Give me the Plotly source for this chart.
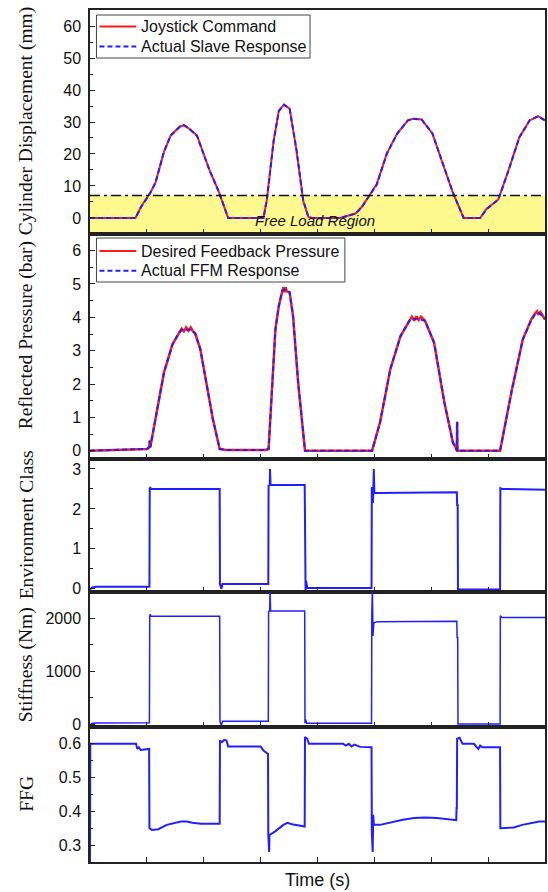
import plotly.graph_objects as go

# ---------------- data (time in s) ----------------
disp_t = [0, 8.0, 9.0, 10.6, 11.5, 13.0, 14.2, 15.8, 16.5, 17.3, 18.8, 21.0, 22.5, 23.4, 24.3,
          30.5, 31.1, 32.3, 33.2, 34.1, 35.1, 36.3, 37.5, 38.4, 39.0,
          44.0, 45.5, 46.7, 47.8, 49.1, 50.4, 52.2, 54.0, 55.9, 56.8, 58.3, 60.2, 62.0, 63.8, 65.7,
          68.6, 69.7, 71.8, 73.6, 75.5, 77.3, 78.8, 80.0]
joystick_cmd = [0, 0, 3.6, 7.9, 11.0, 20.7, 25.8, 28.6, 29.0, 28.1, 25.8, 15.0, 8.9, 4.3, 0,
                0, 5.8, 24.3, 33.5, 35.4, 34.2, 21.2, 5.3, 0.3, 0,
                0, 0.9, 1.4, 3.5, 6.9, 10.5, 20.2, 26.4, 30.5, 31.0, 30.8, 26.4, 17.1, 7.9, 0,
                0, 2.8, 5.8, 15.0, 25.3, 30.5, 31.8, 30.5]
slave_resp = [0, 0, 3.5, 7.8, 11.0, 20.6, 25.8, 28.5, 29.0, 28.1, 25.7, 15.0, 8.8, 4.2, 0,
              0, 5.7, 24.2, 33.4, 35.4, 34.2, 21.3, 5.4, 0.3, 0,
              0, 0.9, 1.4, 3.4, 6.8, 10.4, 20.1, 26.3, 30.5, 31.0, 30.8, 26.4, 17.2, 8.0, 0,
              0, 2.7, 5.8, 14.9, 25.2, 30.5, 31.8, 30.5]
free_load_limit = 7.0

press_t = [0, 10.0, 10.4, 10.5, 10.6, 11.2, 13.0, 14.5, 15.6, 16.1, 16.5, 16.9, 17.3, 17.7, 18.1, 18.5,
           19.4, 21.6, 22.8, 24.0, 30.8, 31.4, 32.6, 33.2, 33.8, 34.0, 34.2, 34.4, 34.6, 35.1, 35.7,
           36.6, 37.8, 49.6, 51.0, 52.8, 54.6, 56.2, 56.6, 57.0, 57.4, 57.8, 58.2, 58.9, 60.5, 62.3,
           63.8, 64.3, 64.5, 64.55, 64.6, 72.1, 74.2, 76.1, 77.6, 78.2, 78.6, 78.8, 79.2, 80.0]
desired_press = [0, 0.05, 0.1, 0.3, 0.1, 0.65, 2.34, 3.19, 3.5, 3.66, 3.58, 3.7, 3.6, 3.7, 3.58, 3.52,
                 3.04, 0.95, 0.05, 0.02, 0.02, 0.05, 3.64, 4.34, 4.78, 4.9, 4.75, 4.9, 4.78, 4.75, 4.04,
                 2.04, 0, 0, 0.85, 2.44, 3.44, 3.94, 4.02, 3.9, 4.03, 3.92, 4.02, 3.9, 3.24, 1.45,
                 0.25, 0.1, 0, 0.87, 0, 0, 1.84, 3.34, 3.94, 4.1, 4.18, 4.1, 4.16, 3.94]
actual_ffm = [0, 0.05, 0.1, 0.3, 0.1, 0.65, 2.34, 3.19, 3.52, 3.62, 3.62, 3.64, 3.64, 3.63, 3.6, 3.5,
              3.04, 0.95, 0.05, 0.02, 0.02, 0.05, 3.64, 4.34, 4.8, 4.83, 4.83, 4.82, 4.8, 4.75, 4.04,
              2.04, 0, 0, 0.85, 2.44, 3.44, 3.92, 3.95, 3.96, 3.96, 3.95, 3.94, 3.9, 3.24, 1.45,
              0.25, 0.1, 0, 0.87, 0, 0, 1.84, 3.34, 3.92, 4.08, 4.12, 4.12, 4.1, 3.94]

env_t = [0, 0.3, 1.0, 10.45, 10.5, 10.6, 10.7, 22.8, 22.85, 23.1, 23.3, 31.35, 31.4, 31.6, 31.65,
         31.75, 37.75, 37.8, 37.9, 38.0, 38.2, 49.5, 49.55, 49.7, 49.75, 49.9, 50.0, 50.3, 57.0,
         64.5, 64.55, 64.65, 64.7, 72.1, 72.15, 72.4, 80.0]
env_class = [-0.02, 0.03, 0.05, 0.05, 2.5, 2.55, 2.5, 2.5, 0.12, 0.0, 0.12, 0.12, 2.58, 2.6, 3.0,
             2.6, 2.6, 0.02, -0.05, 0.2, 0.02, 0.02, 2.55, 2.4, 2.15, 3.0, 2.4, 2.4, 2.41,
             2.42, 2.1, 2.1, -0.02, -0.02, 2.52, 2.5, 2.48]

stiff_t = [0, 0.3, 1.0, 10.45, 10.5, 10.6, 10.7, 22.8, 22.85, 23.1, 23.3, 31.35, 31.4, 31.6, 31.65,
           31.75, 37.75, 37.8, 37.9, 38.1, 49.5, 49.55, 49.65, 49.75, 49.9, 50.5, 64.5, 64.55, 64.65,
           64.7, 72.1, 72.15, 72.4, 80.0]
stiffness = [-20, 15, 25, 30, 2040, 2080, 2040, 2040, 60, -20, 60, 60, 2130, 2140, 2600,
             2140, 2140, 20, 90, 20, 20, 2080, 2600, 1670, 1920, 1940, 1945, 1640, 1640,
             5, 5, 2050, 2020, 2020]

ffg_t = [0, 0.05, 8.1, 8.3, 8.6, 8.9, 10.4, 10.45, 10.9, 12.0, 13.5, 14.8, 16.0, 17.0, 18.0, 19.5,
         22.8, 22.85, 23.2, 23.6, 24.0, 24.3, 30.0, 30.5, 31.3, 31.35, 31.5, 31.55, 32.5, 34.0, 34.7,
         35.5, 37.75, 37.8, 38.2, 38.5, 44.5, 45.0, 45.5, 46.0, 46.5, 47.5, 49.5, 49.55, 49.7, 49.8,
         49.9, 51.0, 53.0, 55.0, 57.0, 59.0, 61.0, 62.5, 64.4, 64.45, 64.5, 64.55, 65.0, 65.5, 67.5,
         68.0, 68.3, 68.6, 69.0, 70.0, 72.1, 72.15, 73.0, 74.5, 76.0, 77.5, 79.0, 80.0]
ffg = [0.25, 0.6, 0.6, 0.585, 0.59, 0.582, 0.585, 0.35, 0.345, 0.347, 0.36, 0.365, 0.37, 0.37, 0.366, 0.363,
       0.363, 0.61, 0.605, 0.612, 0.61, 0.592, 0.592, 0.58, 0.57, 0.33, 0.28, 0.33, 0.34, 0.36, 0.366,
       0.362, 0.355, 0.62, 0.615, 0.6, 0.6, 0.595, 0.6, 0.592, 0.598, 0.591, 0.59, 0.34, 0.28, 0.39,
       0.36, 0.36, 0.368, 0.375, 0.38, 0.382, 0.38, 0.378, 0.374, 0.41, 0.41, 0.615, 0.618, 0.6, 0.6,
       0.59, 0.585, 0.595, 0.59, 0.59, 0.59, 0.35, 0.35, 0.352, 0.36, 0.365, 0.37, 0.37]

y_titles = ["Cylinder Displacement (mm)", "Reflected Pressure (bar)", "Environment Class",
            "Stiffness (Nm)", "FFG"]
legend1_labels = ["Joystick Command", "Actual Slave Response"]
legend2_labels = ["Desired Feedback Pressure", "Actual FFM Response"]

# ---------------- figure ----------------
W, H = 548, 892
ML, MR, MT, MB = 90, 1, 10, 30
PW, PH = W - ML - MR, H - MT - MB
RED = "#ff1a1a"
BLUE = "#1f1fff"
AX = "#222222"
DASH = "5px,3px"
domains = [[0.7371, 1.0], [0.4730, 0.7371], [0.3169, 0.4730], [0.1585, 0.3169], [0.0, 0.1585]]
yranges = [[-5, 65], [-0.25, 6.5], [-0.08, 3.25], [-50, 2500], [0.25, 0.65]]
ydticks = [10, 1, 1, 1000, 0.1]
title_y = [0.8697, 0.6185, 0.3955, 0.2312, 0.0804]


def px_x(px):
    return (px - ML) / PW


def px_y(py):
    return (H - MB - py) / PH


fig = go.Figure()

fig.add_trace(go.Scatter(x=disp_t, y=joystick_cmd, mode="lines", name=legend1_labels[0],
                         line=dict(color=RED, width=2), xaxis="x", yaxis="y", showlegend=False))
fig.add_trace(go.Scatter(x=disp_t, y=slave_resp, mode="lines", name=legend1_labels[1],
                         line=dict(color=BLUE, width=2, dash=DASH), xaxis="x", yaxis="y",
                         showlegend=False))
fig.add_trace(go.Scatter(x=press_t, y=desired_press, mode="lines", name=legend2_labels[0],
                         line=dict(color=RED, width=2.5), xaxis="x2", yaxis="y2", showlegend=False))
fig.add_trace(go.Scatter(x=press_t, y=actual_ffm, mode="lines", name=legend2_labels[1],
                         line=dict(color=BLUE, width=2, dash=DASH), xaxis="x2", yaxis="y2",
                         showlegend=False))
fig.add_trace(go.Scatter(x=env_t, y=env_class, mode="lines", showlegend=False,
                         line=dict(color=BLUE, width=2), xaxis="x3", yaxis="y3"))
fig.add_trace(go.Scatter(x=stiff_t, y=stiffness, mode="lines", showlegend=False,
                         line=dict(color=BLUE, width=1.5), xaxis="x4", yaxis="y4"))
fig.add_trace(go.Scatter(x=ffg_t, y=ffg, mode="lines", showlegend=False,
                         line=dict(color=BLUE, width=2), xaxis="x5", yaxis="y5"))

layout = dict(
    width=W, height=H,
    margin=dict(l=ML, r=MR, t=MT, b=MB),
    paper_bgcolor="white", plot_bgcolor="white",
    showlegend=False,
    font=dict(family="Liberation Sans", color="#111"),
)
for i in range(5):
    sx = "" if i == 0 else str(i + 1)
    layout["xaxis" + sx] = dict(
        domain=[0, 1], range=[0, 80], dtick=10, tick0=0, anchor="y" + sx,
        showticklabels=False, ticks="inside", ticklen=5, tickwidth=1.2, tickcolor=AX,
        showline=True, linecolor=AX, linewidth=1.5, mirror=True,
        showgrid=False, zeroline=False, fixedrange=True,
    )
    layout["yaxis" + sx] = dict(
        domain=domains[i], range=yranges[i], dtick=ydticks[i], anchor="x" + sx,
        ticks="inside", ticklen=5, tickwidth=1.2, tickcolor=AX,
        minor=dict(ticks="inside", ticklen=3, dtick=ydticks[i] / 2, tickcolor=AX, tickwidth=1),
        showline=True, linecolor=AX, linewidth=1.5, mirror=True,
        showgrid=False, zeroline=False, fixedrange=True,
        tickfont=dict(family="Liberation Sans", size=16, color="#111"),
        ticklabelstandoff=4,
    )
fig.update_layout(**layout)

# free load region
fig.add_shape(type="rect", xref="x", yref="y", x0=0, x1=80, y0=-5, y1=free_load_limit,
              fillcolor="#fdf98f", line=dict(width=0), layer="below")
fig.add_shape(type="line", xref="x", yref="y", x0=0, x1=80, y0=free_load_limit, y1=free_load_limit,
              line=dict(color="#111", width=1.5, dash="10px,4px,3px,4px"))
fig.add_annotation(x=39.6, y=-0.8, xref="x", yref="y", text="<i>Free Load Region</i>",
                   showarrow=False, font=dict(family="Liberation Sans", size=15, color="#111"),
                   xanchor="center", yanchor="middle")


# legend boxes (drawn as boxes, sample lines and text)
def draw_legend(box, rows, labels):
    x0, y0, x1, y1 = box
    fig.add_shape(type="rect", xref="paper", yref="paper",
                  x0=px_x(x0), x1=px_x(x1), y0=px_y(y1), y1=px_y(y0),
                  fillcolor="white", line=dict(color="#444", width=1))
    styles = [dict(color=RED, width=2), dict(color=BLUE, width=2, dash=DASH)]
    for row, lab, st in zip(rows, labels, styles):
        fig.add_shape(type="line", xref="paper", yref="paper",
                      x0=px_x(x0 + 3), x1=px_x(x0 + 40), y0=px_y(row), y1=px_y(row), line=st)
        fig.add_annotation(x=px_x(x0 + 43), y=px_y(row), xref="paper", yref="paper", text=lab,
                           showarrow=False, xanchor="left", yanchor="middle",
                           font=dict(family="Liberation Sans", size=16, color="#111"))


draw_legend((96.5, 15, 311, 58), (26.5, 46.5), legend1_labels)
draw_legend((96.5, 238, 346, 282), (251, 270.7), legend2_labels)

# y-axis titles
for i, title in enumerate(y_titles):
    fig.add_annotation(x=-0.14, y=title_y[i], xref="paper", yref="paper",
                       text=title, textangle=-90, showarrow=False,
                       font=dict(family="Liberation Serif", size=19.5, color="#111"),
                       xanchor="center", yanchor="middle")

fig.add_annotation(x=0.5, y=-0.021, xref="paper", yref="paper", text="Time (s)", showarrow=False,
                   font=dict(family="Liberation Sans", size=18, color="#111"),
                   xanchor="center", yanchor="middle")

fig.write_html("out.html")
